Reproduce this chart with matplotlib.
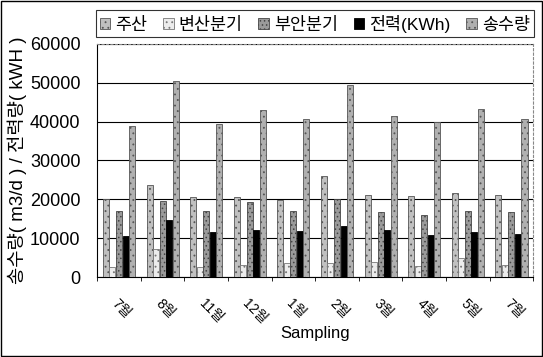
import matplotlib.pyplot as plt
import numpy as np

plt.rcParams['font.family'] = ['Liberation Sans', 'Noto Sans CJK KR', 'DejaVu Sans']
plt.rcParams['hatch.linewidth'] = 0.6

# data
months = ['7월', '8월', '11월', '12월', '1월', '2월', '3월', '4월', '5월', '7월']
jusan = [20000, 23600, 20500, 20700, 19700, 26000, 21000, 20900, 21500, 21100]
byeonsan = [2500, 7300, 2600, 3200, 3500, 3500, 3800, 2900, 5000, 3000]
buan = [17000, 19600, 17000, 19200, 16900, 20000, 16800, 15900, 17000, 16700]
power = [10500, 14600, 11500, 12000, 11800, 13100, 12200, 10900, 11700, 11200]
flow = [39000, 50400, 39500, 42900, 40700, 49500, 41500, 40000, 43300, 40800]

names = ['주산', '변산분기', '부안분기', '전력(KWh)', '송수량']
series = [jusan, byeonsan, buan, power, flow]
colors = ['#c0c0c0', '#ececec', '#9a9a9a', '#000000', '#b0b0b0']
edges = ['#555555', '#777777', '#444444', '#000000', '#555555']
hatches = ['...', '...', '....', '', '...']

fig = plt.figure(figsize=(5.43, 3.57), dpi=100)
ax = fig.add_axes([0.179, 0.224, 0.803, 0.653])

x = np.arange(len(months))
w = 0.15
for i, (vals, name) in enumerate(zip(series, names)):
    ax.bar(x + (i - 2) * w, vals, w * 0.92, color=colors[i], edgecolor=edges[i],
           linewidth=0.6, hatch=hatches[i], label=name, zorder=3)

ax.set_xlim(-0.5, len(months) - 0.5)
ax.set_ylim(0, 60000)
ax.set_yticks(range(0, 60001, 10000))
ax.yaxis.grid(True, color='black', linewidth=0.8, zorder=0)
ax.tick_params(axis='y', length=0, labelsize=13, pad=12)

ax.set_xticks(x)
ax.set_xticklabels(months, rotation=-45, ha='left', rotation_mode='anchor', fontsize=10)
ax.set_xticks(np.arange(-0.5, len(months)), minor=True)
ax.tick_params(axis='x', which='major', length=0, pad=14)
ax.tick_params(axis='x', which='minor', length=3)

for s in ['top', 'right']:
    ax.spines[s].set_linestyle((0, (2, 2)))
    ax.spines[s].set_color('#888888')
    ax.spines[s].set_linewidth(0.8)

ax.set_xlabel('Sampling', fontsize=12, labelpad=0)
ax.set_ylabel('송수량( m3/d ) / 전력량( kWH )', fontsize=13.5, labelpad=2)

leg = fig.legend(loc='upper left', bbox_to_anchor=(0.16, 0.995), ncol=5, fontsize=12.5,
                 frameon=True, fancybox=False, edgecolor='black', handlelength=0.6,
                 handleheight=0.6, handletextpad=0.3, columnspacing=0.9, borderpad=0.25)
leg.get_frame().set_linewidth(0.8)

fig.patches.append(plt.Rectangle((0.002, 0.003), 0.996, 0.994, transform=fig.transFigure,
                                 fill=False, edgecolor='black', linewidth=1))

fig.savefig('out.png', dpi=100)
